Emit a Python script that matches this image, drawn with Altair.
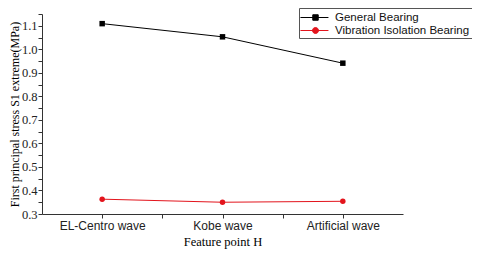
import altair as alt
import pandas as pd

categories = ["EL-Centro wave", "Kobe wave", "Artificial wave"]
series_names = ["General Bearing", "Vibration Isolation Bearing"]
general = [1.109, 1.053, 0.941]
isolation = [0.363, 0.350, 0.354]
colors = ["#000000", "#e3141c"]

rows = []
for i, c in enumerate(categories):
    rows.append({"idx": i, "cat": c, "series": series_names[0], "series2": series_names[0], "value": general[i]})
    rows.append({"idx": i, "cat": c, "series": series_names[1], "series2": series_names[1], "value": isolation[i]})
df = pd.DataFrame(rows)

label_expr = " : ".join(
    [f"datum.value == {i} ? '{c}'" for i, c in enumerate(categories)]
) + " : ''"

x_enc = alt.X(
    "idx:Q",
    scale=alt.Scale(domain=[-0.5, 2.5], nice=False, zero=False),
    axis=alt.Axis(
        values=[0, 0.5, 1, 1.5, 2],
        labelExpr=label_expr,
        title="Feature point H",
        titleFont="Liberation Serif",
        titleFontSize=12.5,
        titleFontWeight="normal",
        titlePadding=4,
        labelFont="Liberation Sans",
        labelFontSize=12,
        labelColor="#222",
        grid=False,
        tickSize=4,
        domainColor="#333",
        tickColor="#333",
    ),
)
y_vals = [round(0.3 + 0.05 * k, 2) for k in range(18)]
y_enc = alt.Y(
    "value:Q",
    scale=alt.Scale(domain=[0.3, 1.15], nice=False, zero=False),
    axis=alt.Axis(
        values=y_vals,
        labelExpr="abs(datum.value*10 - round(datum.value*10)) < 0.01 ? format(datum.value, '.1f') : ''",
        title="First principal stress S1 extreme(MPa)",
        titleFont="Liberation Serif",
        titleFontSize=12,
        titleFontWeight="normal",
        titlePadding=0,
        labelPadding=1,
        labelFont="Liberation Serif",
        labelFontSize=12.5,
        labelColor="#222",
        grid=False,
        tickSize=4,
        domainColor="#333",
        tickColor="#333",
    ),
)

color_scale = alt.Scale(domain=series_names, range=colors)

lines = alt.Chart(df).mark_line(strokeWidth=1).encode(
    x=x_enc, y=y_enc,
    color=alt.Color("series:N", scale=color_scale, legend=None),
)
points = alt.Chart(df).mark_point(filled=True, size=30, opacity=1).encode(
    x=x_enc, y=y_enc,
    color=alt.Color("series:N", scale=color_scale, legend=None),
    shape=alt.Shape("series:N", scale=alt.Scale(domain=series_names, range=["square", "circle"]), legend=None),
)

sq_path = "M-1.15,0H2.85M0.61,-0.39H1.39V0.39H0.61Z"
ci_path = "M-1.15,0H2.85M1.43,0A0.43,0.43,0,1,1,0.57,0A0.43,0.43,0,1,1,1.43,0Z"

leg = alt.Legend(
    title=None,
    orient="none",
    legendX=257,
    legendY=-6,
    strokeColor="#555",
    fillColor="white",
    padding=2,
    symbolSize=196,
    symbolStrokeWidth=1,
    labelFont="Liberation Sans",
    labelFontSize=11.5,
    labelColor="#111",
    rowPadding=0,
    cornerRadius=0,
    labelOffset=19,
)

legend_layer = alt.Chart(df).transform_filter("false").mark_point(opacity=1, strokeWidth=1).encode(
    x=x_enc, y=y_enc,
    fill=alt.Fill("series2:N", scale=alt.Scale(domain=series_names, range=colors), legend=leg),
    stroke=alt.Stroke("series2:N", scale=alt.Scale(domain=series_names, range=colors), legend=leg),
    shape=alt.Shape("series2:N", scale=alt.Scale(domain=series_names, range=[sq_path, ci_path]), legend=leg),
)

chart = (
    alt.layer(lines, points, legend_layer)
    .resolve_scale(color="independent", shape="independent", fill="independent", stroke="independent")
    .properties(
        width=361,
        height=200,
        background="white",
        autosize=alt.AutoSizeParams(type="none"),
        padding={"left": 34, "top": 6, "right": 69, "bottom": 39},
    )
    .configure_view(strokeWidth=0, stroke="transparent")
)

chart.save("out.html", embed_options={"renderer": "svg", "actions": False})
